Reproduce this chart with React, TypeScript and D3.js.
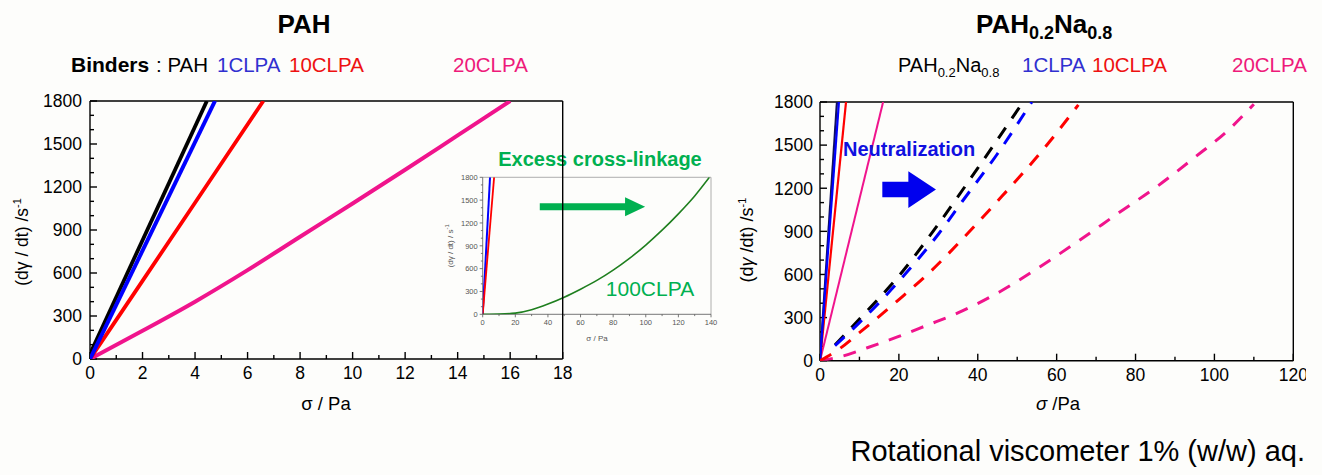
import React from "react";
import * as d3 from "d3";

const FONT = "'Liberation Sans', Arial, Helvetica, sans-serif";

// ---------- Left panel (PAH binders) ----------
const pahStress = [0, 4.45];
const pahRate = [35, 1800];
const clpa1Stress = [0, 4.76];
const clpa1Rate = [0, 1800];
const clpa10Stress = [0, 2, 4, 6.6];
const clpa10Rate = [0, 545, 1090, 1800];
const clpa20Stress = [0, 2, 4, 6, 8, 10, 12, 14, 16];
const clpa20Rate = [0, 197, 400, 620, 853, 1085, 1320, 1560, 1800];

// ---------- Inset (100CLPA) ----------
const insetClpa1Stress = [0, 4.5];
const insetClpa1Rate = [0, 1800];
const insetClpa10Stress = [0, 7];
const insetClpa10Rate = [0, 1800];
const clpa100Stress = [0, 10, 20, 30, 40, 50, 60, 70, 80, 90, 100, 110, 120, 130, 139];
const clpa100Rate = [0, 2, 15, 60, 135, 225, 330, 445, 580, 735, 910, 1105, 1320, 1555, 1800];

// ---------- Right panel (PAH0.2Na0.8) ----------
const solidPahStress = [0, 4.3];
const solidPahRate = [0, 1800];
const solid1Stress = [0, 4.8];
const solid1Rate = [0, 1800];
const solid10Stress = [0, 6.6];
const solid10Rate = [0, 1800];
const solid20Stress = [0, 16];
const solid20Rate = [0, 1800];

const naPahStress = [3.8, 10, 20, 30, 40, 51.5];
const naPahRate = [110, 290, 590, 950, 1340, 1800];
const na1Stress = [3.8, 10, 21, 30, 36, 45, 53.7];
const na1Rate = [105, 265, 584, 880, 1106, 1440, 1800];
const na10Stress = [0, 5.1, 10, 20, 28, 37.6, 46, 56.6, 65.5];
const na10Rate = [0, 86, 195, 425, 620, 890, 1140, 1470, 1780];
const na20Stress = [0, 5.9, 12, 19.8, 27, 35.1, 45.6, 55.8, 65.9, 75.6, 85.4, 94.7, 104, 110];
const na20Rate = [0, 33, 90, 167, 245, 334, 480, 654, 840, 1026, 1211, 1408, 1617, 1785];

// ticks
const leftXTicks = d3.range(0, 18.001, 2);
const leftXMinor = d3.range(1, 18, 2);
const rateTicks = d3.range(0, 1800.1, 300);
const rateMinor = d3.range(100, 1800, 100).filter((v) => v % 300 !== 0);
const insetXTicks = d3.range(0, 140.1, 20);
const insetXMinor = d3.range(10, 140, 20);
const rightXTicks = d3.range(0, 120.1, 20);
const rightXMinor = d3.range(10, 120, 20);

const C = {
  black: "#000000",
  blue: "#0000ff",
  red: "#ff0000",
  pink: "#f0148c",
  green: "#00b050",
  dgreen: "#1f7f1f",
  tBlue: "#3030d0",
  tRed: "#ee1111",
  tPink: "#ee1a7a",
};

type Scale = d3.ScaleLinear<number, number>;

function pathOf(sx: Scale, sy: Scale, X: number[], Y: number[], smooth = false) {
  const g = d3
    .line<[number, number]>()
    .x((d) => sx(d[0]))
    .y((d) => sy(d[1]))
    .curve(smooth ? d3.curveMonotoneX : d3.curveLinear);
  return g(d3.zip(X, Y) as [number, number][]) || "";
}

function Axes(props: {
  sx: Scale;
  sy: Scale;
  xt: number[];
  xm: number[];
  yt: number[];
  ym: number[];
  fs: number;
  xOff: number;
  yGap: number;
  major: number;
  minor: number;
  inward: boolean;
  color: string;
  frameColor: string;
  sw: number;
  clipId?: string;
}) {
  const { sx, sy, xt, xm, yt, ym, fs, xOff, yGap, major, minor, inward, color, frameColor, sw } = props;
  const [x0, x1] = sx.range();
  const [y0, y1] = sy.range();
  const dirY = inward ? -1 : 1;
  const dirX = inward ? 1 : -1;
  return (
    <g>
      {xt.map((v) => (
        <line key={"xt" + v} x1={sx(v)} x2={sx(v)} y1={y0} y2={y0 + dirY * major} stroke={color} strokeWidth={sw} />
      ))}
      {xm.map((v) => (
        <line key={"xm" + v} x1={sx(v)} x2={sx(v)} y1={y0} y2={y0 + dirY * minor} stroke={color} strokeWidth={sw} />
      ))}
      {yt.map((v) => (
        <line key={"yt" + v} x1={x0} x2={x0 + dirX * major} y1={sy(v)} y2={sy(v)} stroke={color} strokeWidth={sw} />
      ))}
      {ym.map((v) => (
        <line key={"ym" + v} x1={x0} x2={x0 + dirX * minor} y1={sy(v)} y2={sy(v)} stroke={color} strokeWidth={sw} />
      ))}
      <g clipPath={props.clipId ? `url(#${props.clipId})` : undefined}>
        {xt.map((v) => (
          <text key={"xl" + v} x={sx(v)} y={y0 + xOff} textAnchor="middle" fontSize={fs} fill={color} fontFamily={FONT}>
            {v}
          </text>
        ))}
      </g>
      {yt.map((v) => (
        <text key={"yl" + v} x={x0 - yGap} y={sy(v)} dy="0.36em" textAnchor="end" fontSize={fs} fill={color} fontFamily={FONT}>
          {v}
        </text>
      ))}
      <line x1={x0} x2={x1} y1={y1} y2={y1} stroke={frameColor} strokeWidth={sw} />
      <line x1={x1} x2={x1} y1={y0} y2={y1} stroke={frameColor} strokeWidth={sw} />
      <line x1={x0} x2={x1} y1={y0} y2={y0} stroke={color} strokeWidth={sw} />
      <line x1={x0} x2={x0} y1={y0} y2={y1} stroke={color} strokeWidth={sw} />
    </g>
  );
}

function arrowPath(xa: number, xb: number, xc: number, yc: number, shaftH: number, headH: number) {
  const p = d3.path();
  p.moveTo(xa, yc - shaftH / 2);
  p.lineTo(xb, yc - shaftH / 2);
  p.lineTo(xb, yc - headH / 2);
  p.lineTo(xc, yc);
  p.lineTo(xb, yc + headH / 2);
  p.lineTo(xb, yc + shaftH / 2);
  p.lineTo(xa, yc + shaftH / 2);
  p.closePath();
  return p.toString();
}

export default function App() {
  const W = 1322;
  const H = 475;
  const xL = d3.scaleLinear().domain([0, 18]).range([90, 562.7]);
  const yL = d3.scaleLinear().domain([0, 1800]).range([359, 101]);
  const xI = d3.scaleLinear().domain([0, 140]).range([482.7, 711]);
  const yI = d3.scaleLinear().domain([0, 1800]).range([314.3, 177.3]);
  const xR = d3.scaleLinear().domain([0, 120]).range([820, 1293.3]);
  const yR = d3.scaleLinear().domain([0, 1800]).range([360.7, 102]);

  return (
    <svg
      width={W}
      height={H}
      viewBox={`0 0 ${W} ${H}`}
      style={{ position: "absolute", left: 0, top: 0, background: "#fdfdfb" }}
      fontFamily={FONT}
    >
      <defs>
        <clipPath id="clipL">
          <rect x={90} y={101} width={472.7} height={258} />
        </clipPath>
        <clipPath id="clipI">
          <rect x={482.7} y={177.3} width={228.3} height={137} />
        </clipPath>
        <clipPath id="clipR">
          <rect x={820} y={102} width={473.3} height={258.7} />
        </clipPath>
        <clipPath id="clipRLabels">
          <rect x={700} y={360} width={606} height={40} />
        </clipPath>
      </defs>
      <rect x={0} y={0} width={W} height={H} fill="#fdfdfb" />

      {/* ---------------- Left panel ---------------- */}
      <text x={304} y={33} textAnchor="middle" fontSize={26} fontWeight="bold">
        PAH
      </text>
      <text x={71} y={72} fontSize={21} fontWeight="bold" fill="#000">
        Binders
      </text>
      <text x={156} y={72} fontSize={20.5} fill="#000">
        : PAH
      </text>
      <text x={217} y={72} fontSize={20.5} fill={C.tBlue}>
        1CLPA
      </text>
      <text x={289} y={72} fontSize={20.5} fill={C.tRed}>
        10CLPA
      </text>
      <text x={453} y={72} fontSize={20.5} fill={C.tPink}>
        20CLPA
      </text>

      {/* inset */}
      <g>
        <Axes
          sx={xI}
          sy={yI}
          xt={insetXTicks}
          xm={insetXMinor}
          yt={rateTicks}
          ym={rateMinor}
          fs={7.5}
          xOff={11}
          yGap={5}
          major={3}
          minor={1.8}
          inward={false}
          color="#555"
          frameColor="#9a9a9a"
          sw={0.8}
        />
        <g clipPath="url(#clipI)">
          <path d={pathOf(xI, yI, insetClpa1Stress, insetClpa1Rate)} fill="none" stroke={C.blue} strokeWidth={2} />
          <path d={pathOf(xI, yI, insetClpa10Stress, insetClpa10Rate)} fill="none" stroke={C.red} strokeWidth={1.8} />
          <path d={pathOf(xI, yI, clpa100Stress, clpa100Rate, true)} fill="none" stroke={C.dgreen} strokeWidth={1.6} />
        </g>
        <text transform={`translate(453,${(177.3 + 314.3) / 2}) rotate(-90)`} textAnchor="middle" fontSize={8} fill="#555">
          (dγ / dt) / s<tspan dy={-4} fontSize={6}>-1</tspan>
        </text>
        <text x={597} y={341} textAnchor="middle" fontSize={8} fill="#555">
          σ / Pa
        </text>
        <text x={600} y={166} textAnchor="middle" fontSize={20} fontWeight="bold" fill={C.green}>
          Excess cross-linkage
        </text>
        <text x={650} y={296} textAnchor="middle" fontSize={21} fill={C.green}>
          100CLPA
        </text>
        <path d={arrowPath(xI(35), xI(87.3), xI(99.6), yI(1414), 7, 19)} fill={C.green} />
      </g>

      <Axes
        sx={xL}
        sy={yL}
        xt={leftXTicks}
        xm={leftXMinor}
        yt={rateTicks}
        ym={rateMinor}
        fs={17.5}
        xOff={20}
        yGap={8}
        major={7}
        minor={4}
        inward={true}
        color="#000"
        frameColor="#000"
        sw={1.4}
      />
      <g clipPath="url(#clipL)">
        <path d={pathOf(xL, yL, clpa20Stress, clpa20Rate, true)} fill="none" stroke={C.pink} strokeWidth={4} />
        <path d={pathOf(xL, yL, clpa10Stress, clpa10Rate)} fill="none" stroke={C.red} strokeWidth={3.8} />
        <path d={pathOf(xL, yL, pahStress, pahRate)} fill="none" stroke={C.black} strokeWidth={3.8} />
        <path d={pathOf(xL, yL, clpa1Stress, clpa1Rate)} fill="none" stroke={C.blue} strokeWidth={4} />
      </g>
      <text transform="translate(28,242) rotate(-90)" textAnchor="middle" fontSize={17.5} fill="#000">
        (dγ / dt) /s<tspan dy={-7} fontSize={11}>-1</tspan>
      </text>
      <text x={326} y={410} textAnchor="middle" fontSize={18.5} fill="#000">
        σ / Pa
      </text>

      {/* ---------------- Right panel ---------------- */}
      <text x={976} y={33} fontSize={26} fontWeight="bold">
        PAH<tspan dy={6} fontSize={18}>0.2</tspan>
        <tspan dy={-6}>Na</tspan>
        <tspan dy={6} fontSize={18}>0.8</tspan>
      </text>
      <text x={898} y={72} fontSize={20} fill="#000">
        PAH<tspan dy={5} fontSize={13}>0.2</tspan>
        <tspan dy={-5}>Na</tspan>
        <tspan dy={5} fontSize={13}>0.8</tspan>
      </text>
      <text x={1022} y={72} fontSize={20.5} fill={C.tBlue}>
        1CLPA
      </text>
      <text x={1092} y={72} fontSize={20.5} fill={C.tRed}>
        10CLPA
      </text>
      <text x={1232} y={72} fontSize={20.5} fill={C.tPink}>
        20CLPA
      </text>

      <Axes
        sx={xR}
        sy={yR}
        xt={rightXTicks}
        xm={rightXMinor}
        yt={rateTicks}
        ym={rateMinor}
        fs={17.5}
        xOff={20}
        yGap={7}
        major={7}
        minor={4}
        inward={true}
        color="#000"
        frameColor="#000"
        sw={1.4}
        clipId="clipRLabels"
      />
      <g clipPath="url(#clipR)">
        <path d={pathOf(xR, yR, solid20Stress, solid20Rate)} fill="none" stroke={C.pink} strokeWidth={2} />
        <path d={pathOf(xR, yR, solid10Stress, solid10Rate)} fill="none" stroke={C.red} strokeWidth={2.2} />
        <path d={pathOf(xR, yR, solidPahStress, solidPahRate)} fill="none" stroke="#101060" strokeWidth={2.2} />
        <path d={pathOf(xR, yR, solid1Stress, solid1Rate)} fill="none" stroke={C.blue} strokeWidth={2.2} />
        <path d={pathOf(xR, yR, na20Stress, na20Rate, true)} fill="none" stroke={C.pink} strokeWidth={3} strokeDasharray="13,11" />
        <path d={pathOf(xR, yR, na10Stress, na10Rate, true)} fill="none" stroke={C.red} strokeWidth={3} strokeDasharray="13,11" />
        <path d={pathOf(xR, yR, naPahStress, naPahRate, true)} fill="none" stroke={C.black} strokeWidth={3} strokeDasharray="13,11" />
        <path d={pathOf(xR, yR, na1Stress, na1Rate, true)} fill="none" stroke={C.blue} strokeWidth={3} strokeDasharray="13,11" />
      </g>
      <text x={843} y={156} fontSize={20} fontWeight="bold" fill="#1010e0">
        Neutralization
      </text>
      <path d={arrowPath(xR(15.8), xR(22.4), xR(29.4), yR(1191), 15.6, 36.7)} fill="#0000ee" />
      <text transform="translate(753,240) rotate(-90)" textAnchor="middle" fontSize={18} fill="#000">
        (d<tspan fontStyle="italic">γ</tspan> /dt) /s<tspan dy={-7} fontSize={11}>-1</tspan>
      </text>
      <text x={1058} y={410} textAnchor="middle" fontSize={18.5} fill="#000">
        <tspan fontStyle="italic">σ</tspan> /Pa
      </text>

      <text x={1305} y={461} textAnchor="end" fontSize={29} fill="#000">
        Rotational viscometer 1% (w/w) aq.
      </text>
    </svg>
  );
}
